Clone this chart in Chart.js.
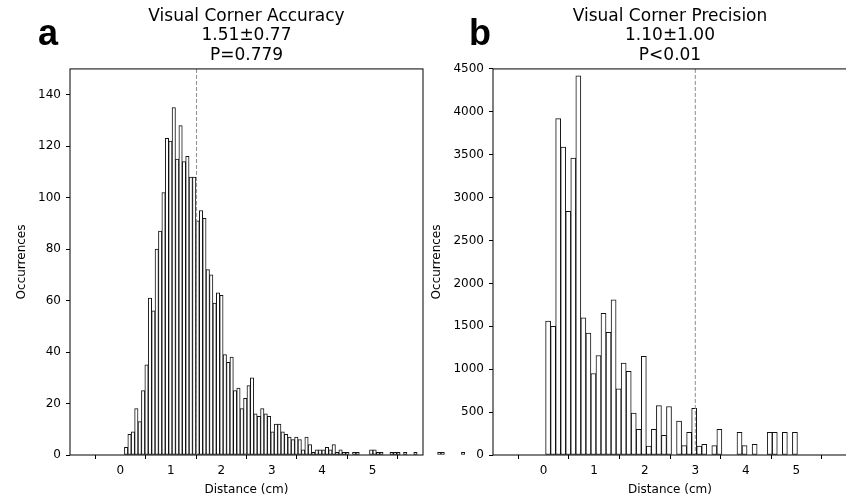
<!DOCTYPE html>
<html>
<head>
<meta charset="utf-8">
<script src="https://cdn.jsdelivr.net/npm/chart.js@4"></script>
<style>
  html, body { margin: 0; padding: 0; background: #fff; overflow: hidden; width: 846px; height: 499px; }
  canvas { position: absolute; top: 0; }
  #chartA { left: 0; }
  #chartB { left: 400px; }
</style>
</head>
<body>
<canvas id="chartA" width="480" height="499"></canvas>
<canvas id="chartB" width="460" height="499"></canvas>
<script>
// ----------------- data: panel a (accuracy) -----------------
const accBinStart = 0.079;
const accBinWidth = 0.0675;
const accCounts = [
  3, 8, 9, 18, 13, 25, 35, 61, 56, 80,
  87, 102, 123, 122, 135, 115, 128, 114, 116, 108,
  108, 91, 95, 92, 72, 70, 59, 63, 62, 39,
  36, 38, 25, 26, 18, 22, 27, 30, 16, 15,
  18, 16, 15, 9, 12, 12, 9, 8, 7, 6,
  7, 6, 2, 7, 4, 1, 2, 2, 2, 3,
  2, 4, 1, 2, 1, 1, 0, 1, 1, 0,
  0, 0, 2, 2, 1, 1, 0, 0, 1, 1,
  1, 0, 1, 0, 0, 1, 0, 0, 0, 0,
  0, 0, 1, 1, 0, 0, 0, 0, 0, 1
];
const accMean = 1.51;
const accTitle = ["Visual Corner Accuracy", "1.51\u00b10.77", "P=0.779"];
const accYTicks = [0, 20, 40, 60, 80, 100, 120, 140];

// ----------------- data: panel b (precision) -----------------
const precBinStart = 0.04;
const precBinWidth = 0.0996;
const precCounts = [
  1560, 1500, 3920, 3590, 2840, 3460, 4420, 1600, 1420, 950,
  1160, 1650, 1430, 1810, 770, 1070, 975, 490, 300, 1150,
  105, 300, 575, 230, 565, 0, 395, 110, 265, 545,
  105, 125, 0, 110, 300, 0, 0, 0, 265, 110,
  0, 125, 0, 0, 265, 265, 0, 265, 0, 265
];
const precLine = 3.0;
const precTitle = ["Visual Corner Precision", "1.10\u00b11.00", "P<0.01"];
const precYTicks = [0, 500, 1000, 1500, 2000, 2500, 3000, 3500, 4000, 4500];

const xTicks = [0, 1, 2, 3, 4, 5];

// ----------------- helpers -----------------
const FONT = "'DejaVu Sans', sans-serif";

const toPoints = (start, width, counts) =>
  counts.map((c, i) => ({ x: start + width * (i + 0.5), y: c }));

// box, dashed marker line and the panel letter
const framePlugin = {
  id: "frame",
  afterDatasetsDraw(chart, args, opts) {
    const { ctx, chartArea: a, scales } = chart;
    ctx.save();
    const x = scales.x.getPixelForValue(opts.line);
    ctx.strokeStyle = "#8c8c8c";
    ctx.lineWidth = 1;
    ctx.setLineDash([4, 2]);
    ctx.beginPath();
    ctx.moveTo(x, a.top);
    ctx.lineTo(x, a.bottom);
    ctx.stroke();
    ctx.setLineDash([]);
    ctx.strokeStyle = "#000";
    ctx.strokeRect(a.left, a.top, a.right - a.left, a.bottom - a.top);
    ctx.fillStyle = "#000";
    ctx.font = "bold 36px 'Liberation Sans', sans-serif";
    ctx.textBaseline = "alphabetic";
    ctx.fillText(opts.letter, opts.letterX, opts.letterY);
    ctx.restore();
  }
};

function makeChart(id, cfg) {
  const ctx = document.getElementById(id).getContext("2d");
  return new Chart(ctx, {
    type: "bar",
    data: {
      datasets: [{
        data: toPoints(cfg.start, cfg.width, cfg.counts),
        backgroundColor: "#fff",
        borderColor: "#111",
        borderWidth: 1,
        borderSkipped: false,
        barPercentage: 1,
        categoryPercentage: 1,
        clip: false
      }]
    },
    options: {
      responsive: false,
      animation: false,
      layout: { padding: { left: 0, right: cfg.padRight, top: 0, bottom: 0 } },
      plugins: {
        legend: { display: false },
        tooltip: { enabled: false },
        title: {
          display: true,
          fullSize: false,
          text: cfg.title,
          color: "#000",
          font: { family: FONT, size: 17, weight: "normal", lineHeight: 1.13 },
          padding: { top: 7.2, bottom: 4.1 }
        },
        frame: { line: cfg.line, letter: cfg.letter, letterX: cfg.letterX, letterY: 45 }
      },
      scales: {
        x: {
          type: "linear",
          min: -1,
          max: 6,
          offset: false,
          afterFit: (s) => { s.height = 44; },
          afterBuildTicks: (s) => { s.ticks = xTicks.map((v) => ({ value: v })); },
          border: { display: false },
          grid: { drawOnChartArea: false, drawTicks: true, tickLength: 4, color: "#000" },
          ticks: { color: "#000", padding: 5, font: { family: FONT, size: 12 }, callback: (v) => String(v) },
          title: {
            display: true,
            text: "Distance (cm)",
            color: "#000",
            font: { family: FONT, size: 12 },
            padding: { top: 0, bottom: 1.8 }
          }
        },
        y: {
          min: 0,
          max: cfg.yMax,
          afterFit: (s) => { s.width = cfg.yWidth; },
          afterBuildTicks: (s) => { s.ticks = cfg.yTicks.map((v) => ({ value: v })); },
          border: { display: false },
          grid: { drawOnChartArea: false, drawTicks: true, tickLength: 4, color: "#000" },
          ticks: { color: "#000", padding: 5, font: { family: FONT, size: 12 }, callback: (v) => String(v) },
          title: {
            display: true,
            text: "Occurrences",
            color: "#000",
            font: { family: FONT, size: 12 },
            padding: { top: cfg.yTitlePad, bottom: 0 }
          }
        }
      }
    },
    plugins: [framePlugin]
  });
}

makeChart("chartA", {
  start: accBinStart, width: accBinWidth, counts: accCounts,
  title: accTitle, line: accMean, letter: "a", letterX: 38,
  yMax: 150, yTicks: accYTicks, yWidth: 70, yTitlePad: 14.8, padRight: 57
});

makeChart("chartB", {
  start: precBinStart, width: precBinWidth, counts: precCounts,
  title: precTitle, line: precLine, letter: "b", letterX: 69,
  yMax: 4500, yTicks: precYTicks, yWidth: 93, yTitlePad: 29.8, padRight: 13
});
</script>
</body>
</html>
